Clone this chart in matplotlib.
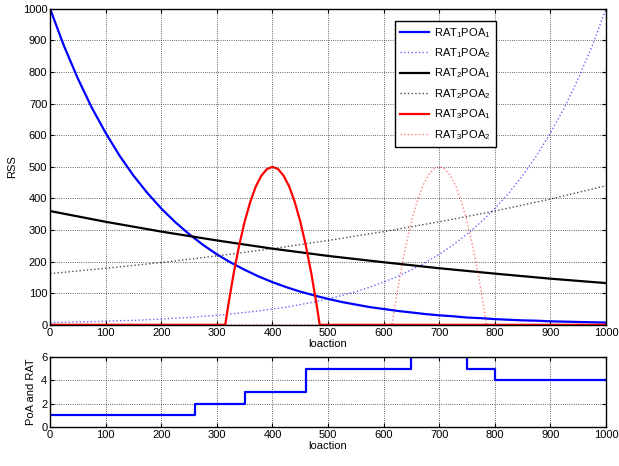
import matplotlib
matplotlib.use("Agg")
from matplotlib import pyplot as plt

plt.rcParams['font.family'] = ['Liberation Sans', 'DejaVu Sans']
plt.rcParams['font.size'] = 8
plt.rcParams['mathtext.fontset'] = 'custom'
plt.rcParams['mathtext.rm'] = 'Liberation Sans'
plt.rcParams['mathtext.it'] = 'Liberation Sans'

# data
x_loc = [0, 25, 50, 75, 100, 125, 150, 175, 200, 225, 250, 275, 300, 325,
         350, 375, 400, 425, 450, 475, 500, 525, 550, 575, 600, 625, 650,
         675, 700, 725, 750, 775, 800, 825, 850, 875, 900, 925, 950, 975, 1000]
rat1_poa1 = [1000, 882, 779, 687, 607, 535, 472, 417, 368, 325, 287, 253,
             223, 197, 174, 153, 135, 119, 105, 93, 82, 72, 64, 56, 50, 44,
             39, 34, 30, 27, 23, 21, 18, 16, 14, 13, 11, 10, 9, 8, 7]
rat1_poa2 = [7, 8, 9, 10, 11, 13, 14, 16, 18, 21, 23, 27, 30, 34, 39, 44,
             50, 56, 64, 72, 82, 93, 105, 119, 135, 153, 174, 197, 223, 253,
             287, 325, 368, 417, 472, 535, 607, 687, 779, 882, 1000]

x_blk = [0, 100, 200, 300, 400, 500, 600, 700, 800, 900, 1000]
rat2_poa1 = [360, 326, 295, 267, 241, 218, 198, 179, 162, 146, 132]
rat2_poa2 = [162, 179, 197, 218, 241, 267, 295, 326, 360, 398, 440]

x_red1 = [0, 315, 320, 330, 340, 350, 360, 370, 380, 390, 400,
          410, 420, 430, 440, 450, 460, 470, 480, 485, 1000]
rat3_poa1 = [0, 0, 57, 161, 251, 327, 389, 438, 472, 493, 500,
             493, 472, 438, 389, 327, 251, 161, 57, 0, 0]
x_red2 = [0, 615, 620, 630, 640, 650, 660, 670, 680, 690, 700,
          710, 720, 730, 740, 750, 760, 770, 780, 785, 1000]
rat3_poa2 = [0, 0, 57, 161, 251, 327, 389, 438, 472, 493, 500,
             493, 472, 438, 389, 327, 251, 161, 57, 0, 0]

step_x = [0, 260, 350, 460, 650, 750, 800, 1000]
step_y = [1, 2, 3, 5, 6, 5, 4, 4]

fig = plt.figure(figsize=(6.19, 4.66), dpi=100)
ax1 = fig.add_axes([0.081, 0.303, 0.898, 0.678])
ax2 = fig.add_axes([0.081, 0.084, 0.898, 0.150])

ax1.plot(x_loc, rat1_poa1, color='blue', lw=1.6, label='RAT$_1$POA$_1$')
ax1.plot(x_loc, rat1_poa2, color='blue', lw=1.0, ls=':', alpha=0.6, label='RAT$_1$POA$_2$')
ax1.plot(x_blk, rat2_poa1, color='black', lw=1.6, label='RAT$_2$POA$_1$')
ax1.plot(x_blk, rat2_poa2, color='black', lw=1.0, ls=':', alpha=0.7, label='RAT$_2$POA$_2$')
ax1.plot(x_red1, rat3_poa1, color='red', lw=1.6, label='RAT$_3$POA$_1$')
ax1.plot(x_red2, rat3_poa2, color='red', lw=1.0, ls=':', alpha=0.5, label='RAT$_3$POA$_2$')

ax1.set_xlim(0, 1000)
ax1.set_ylim(0, 1000)
ax1.set_xticks(range(0, 1001, 100))
ax1.set_yticks(range(0, 1001, 100))
ax1.set_xlabel('loaction', labelpad=1)
ax1.set_ylabel('RSS')
ax1.legend(loc='upper left', bbox_to_anchor=(0.61, 0.98), fancybox=False,
           edgecolor='black', framealpha=1, handlelength=2.6,
           handletextpad=0.5, labelspacing=0.6, borderpad=0.45, fontsize=8)

ax2.step(step_x, step_y, where='post', color='blue', lw=1.6)
ax2.set_xlim(0, 1000)
ax2.set_ylim(0, 6)
ax2.set_xticks(range(0, 1001, 100))
ax2.set_yticks([0, 2, 4, 6])
ax2.set_xlabel('loaction', labelpad=1)
ax2.set_ylabel('PoA and RAT')

for ax in (ax1, ax2):
    ax.grid(True, ls=':', color='black', lw=0.6, alpha=0.8)
    ax.tick_params(direction='in', top=True, right=True, length=3, pad=2)
    for s in ax.spines.values():
        s.set_linewidth(1.0)

plt.savefig('out.png', dpi=100)
